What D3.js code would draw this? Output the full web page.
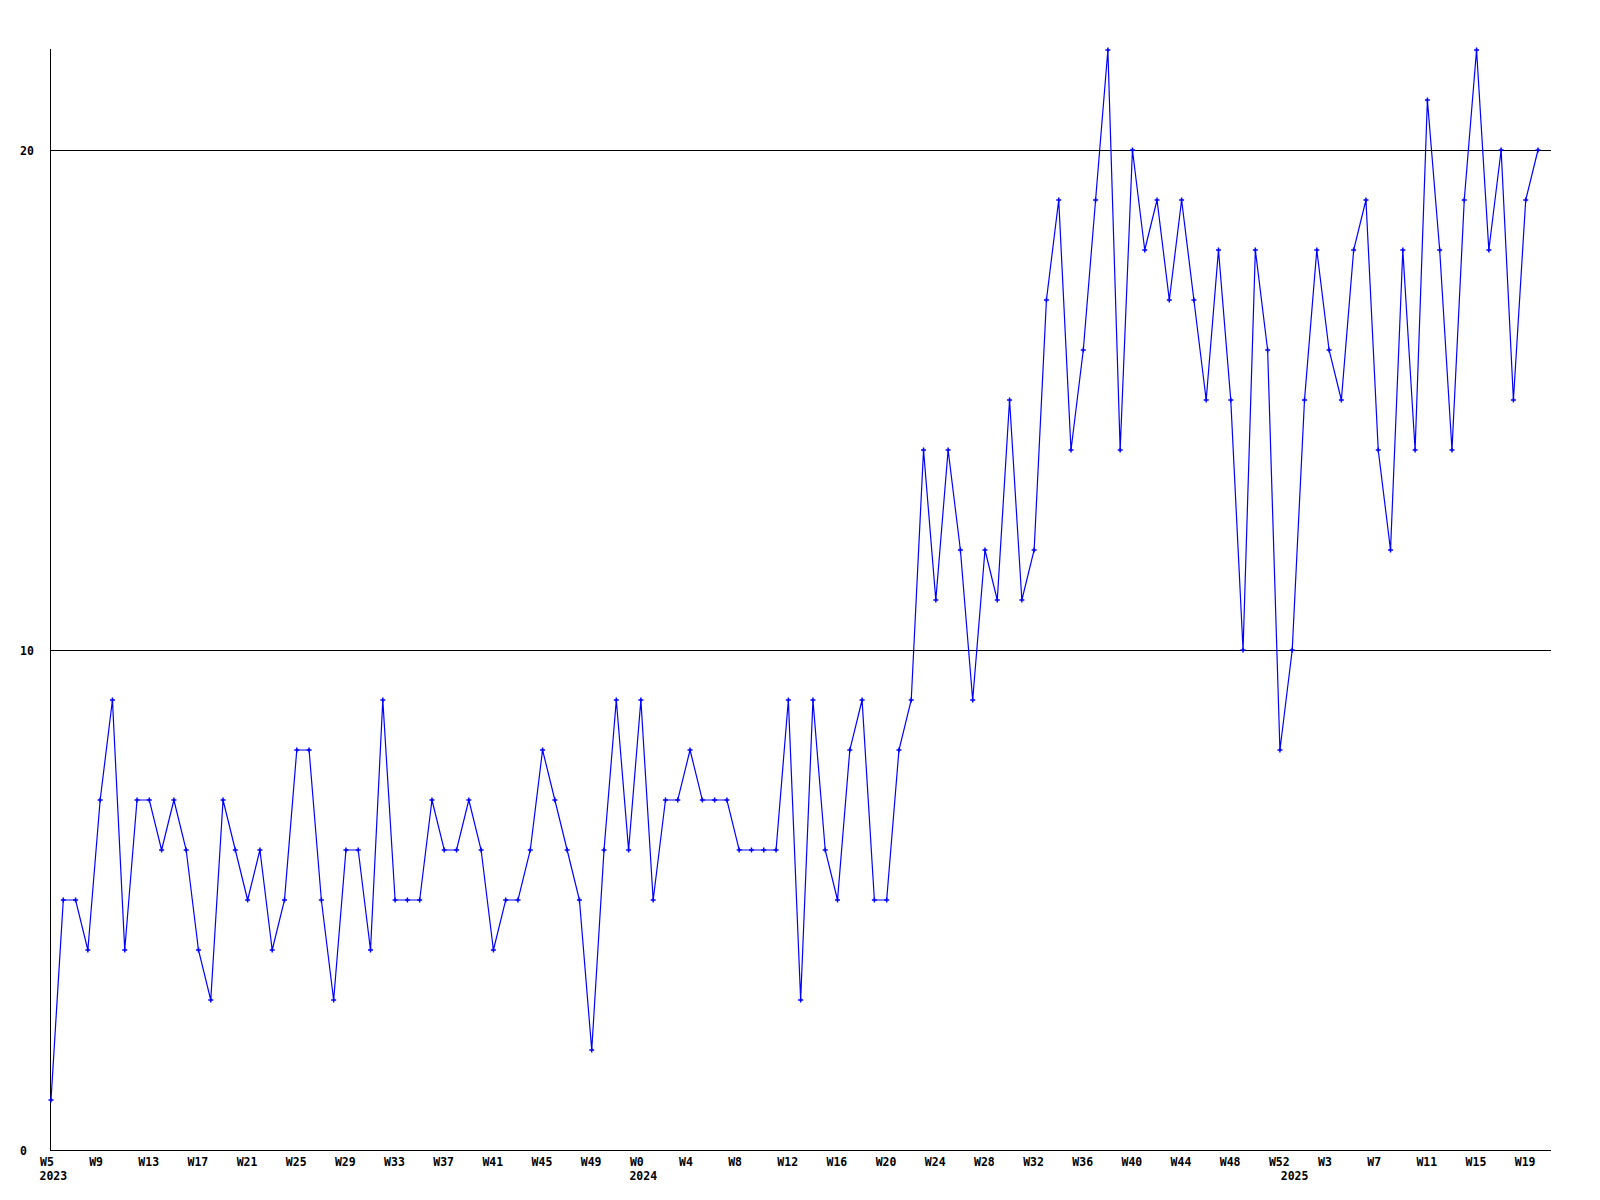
<!DOCTYPE html>
<html>
<head>
<meta charset="utf-8">
<script src="https://cdn.jsdelivr.net/npm/d3@7"></script>
<style>
  html, body { margin: 0; padding: 0; background: #fff; }
  svg { display: block; }
  text { font-family: "DejaVu Sans Mono", "Liberation Mono", monospace; font-weight: bold; font-size: 11.5px; fill: #000; }
</style>
</head>
<body>
<svg id="chart" width="1600" height="1200"></svg>
<script>
// ---- data ----
const weeks2023 = ["W5","W6","W7","W8","W9","W10","W11","W12","W13","W14","W15","W16","W17","W18","W19","W20","W21","W22","W23","W24","W25","W26","W27","W28","W29","W30","W31","W32","W33","W34","W35","W36","W37","W38","W39","W40","W41","W42","W43","W44","W45","W46","W47","W48","W49","W50","W51","W52"];
const weeks2024 = ["W0","W1","W2","W3","W4","W5","W6","W7","W8","W9","W10","W11","W12","W13","W14","W15","W16","W17","W18","W19","W20","W21","W22","W23","W24","W25","W26","W27","W28","W29","W30","W31","W32","W33","W34","W35","W36","W37","W38","W39","W40","W41","W42","W43","W44","W45","W46","W47","W48","W49","W50","W51","W52"];
const weeks2025 = ["W0","W1","W2","W3","W4","W5","W6","W7","W8","W9","W10","W11","W12","W13","W14","W15","W16","W17","W18","W19","W20"];

const values2023 = [1,5,5,4,7,9,4,7,7,6,7,6,4,3,7,6,5,6,4,5,8,8,5,3,6,6,4,9,5,5,5,7,6,6,7,6,4,5,5,6,8,7,6,5,2,6,9,6];
const values2024 = [9,5,7,7,8,7,7,7,6,6,6,6,9,3,9,6,5,8,9,5,5,8,9,14,11,14,12,9,12,11,15,11,12,17,19,14,16,19,22,14,20,18,19,17,19,17,15,18,15,10,18,16,8];
const values2025 = [10,15,18,16,15,18,19,14,12,18,14,21,18,14,19,22,18,20,15,19,20];

const yTicks = [0, 10, 20];
const gridValues = [10, 20];
const labelEvery = 4;

// ---- build table ----
const rows = [];
[[2023, weeks2023, values2023], [2024, weeks2024, values2024], [2025, weeks2025, values2025]].forEach(([yr, wk, vals]) => {
  wk.forEach((w, i) => rows.push({ key: yr + "-" + w, week: w, year: yr, first: i === 0, value: vals[i] }));
});

// ---- layout ----
const svg = d3.select("#chart");
const plotLeft = 51, plotRight = 1551, plotTop = 50, plotBottom = 1150;
const x = d3.scalePoint().domain(rows.map(d => d.key)).range([plotLeft, 1538]);
const y = d3.scaleLinear().domain([0, 22]).range([plotBottom, plotTop]);

// gridlines
svg.append("g").selectAll("line").data(gridValues).join("line")
  .attr("x1", plotLeft).attr("x2", plotRight)
  .attr("y1", d => Math.round(y(d)) + 0.5).attr("y2", d => Math.round(y(d)) + 0.5)
  .attr("stroke", "#000").attr("stroke-width", 1).attr("shape-rendering", "crispEdges");

// axes lines
svg.append("line").attr("x1", 50.5).attr("x2", 50.5).attr("y1", 49).attr("y2", plotBottom + 1)
  .attr("stroke", "#000").attr("shape-rendering", "crispEdges");
svg.append("line").attr("x1", 50).attr("x2", plotRight).attr("y1", plotBottom + 0.5).attr("y2", plotBottom + 0.5)
  .attr("stroke", "#000").attr("shape-rendering", "crispEdges");

// y axis labels
const yAxis = d3.axisLeft(y).tickValues(yTicks).tickSize(0).tickFormat(d3.format("d"));
const gy = svg.append("g").attr("transform", "translate(20,0)").call(yAxis);
gy.select(".domain").remove();
gy.attr("font-family", null).attr("font-size", null);
gy.selectAll("text").attr("x", 0).attr("text-anchor", "start").attr("dy", "0.35em");

// x axis labels
const tickKeys = rows.filter((d, i) => i % labelEvery === 0).map(d => d.key);
const byKey = new Map(rows.map(d => [d.key, d]));
const xAxis = d3.axisBottom(x).tickValues(tickKeys).tickSize(0).tickFormat(k => byKey.get(k).week);
const gx = svg.append("g").attr("transform", `translate(-11.5,${plotBottom + 12})`).call(xAxis);
gx.select(".domain").remove();
gx.attr("font-family", null).attr("font-size", null);
gx.selectAll("text").attr("y", 0).attr("dy", "0.35em").attr("text-anchor", "start");

// year labels
svg.append("g").selectAll("text").data(rows.filter(d => d.first)).join("text")
  .attr("x", d => x(d.key) - 11.5).attr("y", plotBottom + 25.5).attr("dy", "0.35em")
  .attr("text-anchor", "start").text(d => d.year);

// line
const line = d3.line().x(d => x(d.key)).y(d => y(d.value));
svg.append("path").datum(rows).attr("d", line)
  .attr("fill", "none").attr("stroke", "#0000ff").attr("stroke-width", 1.2);

// markers
svg.append("g").selectAll("path").data(rows).join("path")
  .attr("transform", d => `translate(${x(d.key)},${y(d.value)})`)
  .attr("d", "M-2.5,0H2.5M0,-2.5V2.5")
  .attr("stroke", "#0000ff").attr("stroke-width", 1.5).attr("fill", "none");
</script>
</body>
</html>
